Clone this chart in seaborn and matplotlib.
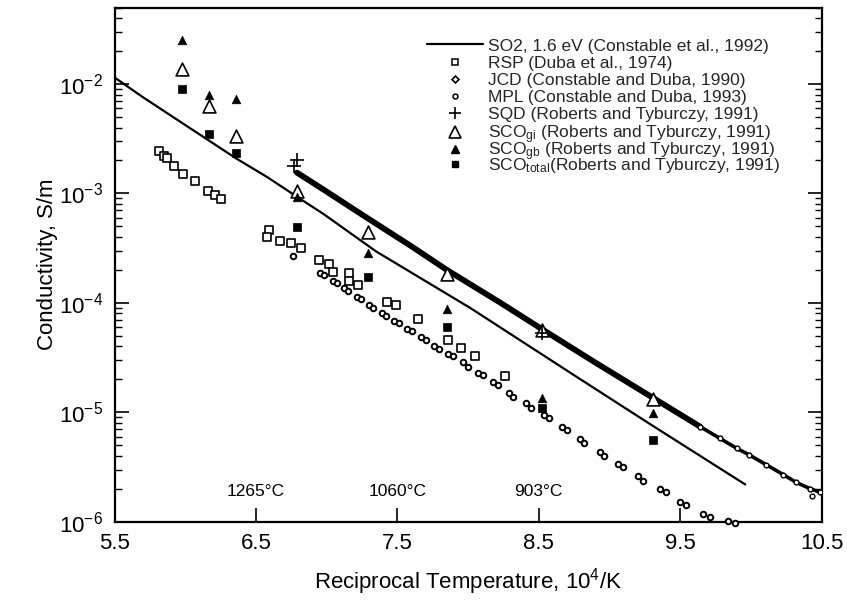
import numpy as np
import pandas as pd
import matplotlib
matplotlib.use("Agg")
import matplotlib.pyplot as plt
from matplotlib.lines import Line2D
import seaborn as sns

# ---------------- data ----------------
so2_x = [5.5, 5.7, 6.03, 6.36, 6.58, 6.79, 6.98, 7.35, 8.02, 8.76, 9.29, 9.96]
so2_y = [1.148e-2, 7.59e-3, 3.98e-3, 2.09e-3, 1.41e-3, 9.33e-4, 6.46e-4,
         2.95e-4, 8.91e-5, 2.14e-5, 7.76e-6, 2.19e-6]

rsp_x = [5.817, 5.85, 5.869, 5.921, 5.982, 6.069, 6.163, 6.211, 6.251, 6.591,
         6.576, 6.67, 6.746, 6.821, 6.948, 7.017, 7.043, 7.161, 7.161, 7.224,
         7.425, 7.491, 7.648, 7.861, 7.95, 8.052, 8.262]
rsp_y = [2.42e-3, 2.18e-3, 2.09e-3, 1.79e-3, 1.49e-3, 1.30e-3, 1.06e-3, 9.59e-4,
         8.81e-4, 4.65e-4, 4.01e-4, 3.66e-4, 3.53e-4, 3.20e-4, 2.45e-4, 2.28e-4,
         1.92e-4, 1.86e-4, 1.60e-4, 1.45e-4, 1.01e-4, 9.66e-5, 7.05e-5, 4.61e-5,
         3.86e-5, 3.24e-5, 2.13e-5]

jcd_x = [6.765, 6.953, 6.981, 7.047, 7.071, 7.123, 7.153, 7.213, 7.243, 7.302,
         7.33, 7.39, 7.42, 7.479, 7.512, 7.571, 7.604, 7.666, 7.70, 7.762,
         7.797, 7.861, 7.896, 7.962, 7.998, 8.073, 8.108, 8.179, 8.214, 8.292,
         8.316, 8.41, 8.445, 8.537, 8.573, 8.663, 8.698, 8.792, 8.82, 8.934,
         8.962, 9.063, 9.098, 9.204, 9.235, 9.358, 9.40, 9.499, 9.542, 9.664,
         9.711, 9.841, 9.888]
jcd_y = [2.69e-4, 1.88e-4, 1.79e-4, 1.58e-4, 1.51e-4, 1.355e-4, 1.28e-4, 1.127e-4,
         1.074e-4, 9.53e-5, 8.99e-5, 8.09e-5, 7.66e-5, 6.89e-5, 6.56e-5, 5.82e-5,
         5.50e-5, 4.84e-5, 4.61e-5, 4.06e-5, 3.82e-5, 3.44e-5, 3.24e-5, 2.86e-5,
         2.59e-5, 2.31e-5, 2.17e-5, 1.91e-5, 1.78e-5, 1.49e-5, 1.39e-5, 1.21e-5,
         1.10e-5, 9.46e-6, 8.81e-6, 7.40e-6, 6.90e-6, 5.70e-6, 5.20e-6, 4.36e-6,
         4.01e-6, 3.40e-6, 3.18e-6, 2.62e-6, 2.36e-6, 2.01e-6, 1.85e-6, 1.52e-6,
         1.41e-6, 1.18e-6, 1.10e-6, 1.01e-6, 0.98e-6]

# MPL: dense band (thick part, then thinner tail) plus visible dots
mpl_x = [6.79, 6.98, 7.21, 7.45, 7.59, 7.85, 8.23, 8.51, 8.89, 9.31, 9.64]
mpl_y = [1.55e-3, 1.08e-3, 6.92e-4, 4.37e-4, 3.35e-4, 2.00e-4, 1.00e-4, 5.89e-5,
         2.90e-5, 1.35e-5, 7.41e-6]
mpl_tail_x = [9.31, 9.64, 9.90, 9.99, 10.11, 10.23, 10.32, 10.42, 10.49]
mpl_tail_y = [1.35e-5, 7.41e-6, 4.68e-6, 4.07e-6, 3.31e-6, 2.69e-6, 2.29e-6,
              2.00e-6, 1.86e-6]
mpl_dot_x = [9.64, 9.78, 9.90, 9.99, 10.11, 10.23, 10.32, 10.42, 10.43, 10.49]
mpl_dot_y = [7.41e-6, 5.80e-6, 4.68e-6, 4.07e-6, 3.31e-6, 2.69e-6, 2.29e-6,
             2.00e-6, 1.70e-6, 1.86e-6]

sqd_x = [6.77, 6.79, 8.52]
sqd_y = [1.77e-3, 2.0e-3, 5.3e-5]

sco_x = [5.98, 6.17, 6.36, 6.79, 7.29, 7.85, 8.52, 9.31]
sco_gi = [1.38e-2, 6.24e-3, 3.33e-3, 1.06e-3, 4.46e-4, 1.85e-4, 5.70e-5, 1.31e-5]
sco_gb = [2.55e-2, 7.87e-3, 7.35e-3, 9.2e-4, 2.88e-4, 8.7e-5, 1.34e-5, 9.8e-6]
sco_total = [9.08e-3, 3.51e-3, 2.35e-3, 4.98e-4, 1.73e-4, 5.98e-5, 1.10e-5, 5.58e-6]

temp_x = [6.5, 7.5, 8.5]
temp_labels = ["1265°C", "1060°C", "903°C"]

legend_labels_a = [
    "SO2, 1.6 eV (Constable et al., 1992)",
    "RSP (Duba et al., 1974)",
    "JCD (Constable and Duba, 1990)",
    "MPL (Constable and Duba, 1993)",
    "SQD (Roberts and Tyburczy, 1991)",
]
legend_labels_b = [
    r"SCO$_{\mathregular{gi}}$ (Roberts and Tyburczy, 1991)",
    r"SCO$_{\mathregular{gb}}$ (Roberts and Tyburczy, 1991)",
    r"SCO$_{\mathregular{total}}$(Roberts and Tyburczy, 1991)",
]

# ---------------- style ----------------
sns.set_theme(style="ticks")
plt.rcParams["font.family"] = ["Liberation Sans", "DejaVu Sans"]
plt.rcParams["mathtext.fontset"] = "custom"
plt.rcParams["mathtext.rm"] = "Liberation Sans"
plt.rcParams["mathtext.it"] = "Liberation Sans:italic"
plt.rcParams["mathtext.bf"] = "Liberation Sans:bold"
plt.rcParams["axes.unicode_minus"] = False

fig = plt.figure(figsize=(8.47, 6.07), dpi=100)
ax = fig.add_axes([0.1352, 0.1405, 0.8348, 0.8471])

K = "black"

# SO2 model line
sns.lineplot(x=so2_x, y=so2_y, ax=ax, color=K, lw=1.6, sort=False,
             estimator=None, zorder=3)

# MPL dense band
sns.lineplot(x=mpl_x, y=mpl_y, ax=ax, color=K, lw=4.2, sort=False,
             estimator=None, zorder=3, solid_capstyle="round",
             solid_joinstyle="round")
sns.lineplot(x=mpl_tail_x, y=mpl_tail_y, ax=ax, color=K, lw=2.6, sort=False,
             estimator=None, zorder=3, solid_capstyle="round",
             solid_joinstyle="round")
sns.scatterplot(x=mpl_dot_x, y=mpl_dot_y, ax=ax,
                marker="o", s=12, facecolor="white", edgecolor=K,
                linewidth=1.0, zorder=4)

# RSP open squares
sns.scatterplot(x=rsp_x, y=rsp_y, ax=ax, marker="s", s=38,
                facecolor="white", edgecolor=K, linewidth=1.2, zorder=4)

# JCD small markers
sns.scatterplot(x=jcd_x, y=jcd_y, ax=ax, marker="o", s=16,
                facecolor="white", edgecolor=K, linewidth=1.4, zorder=4,
                clip_on=False)

# SCO series
sns.scatterplot(x=sco_x, y=sco_gi, ax=ax, marker="^", s=85,
                facecolor="white", edgecolor=K, linewidth=1.2, zorder=5)
sns.scatterplot(x=sco_x, y=sco_gb, ax=ax, marker="^", s=38,
                color=K, edgecolor=K, linewidth=0.5, zorder=5)
sns.scatterplot(x=sco_x, y=sco_total, ax=ax, marker="s", s=30,
                color=K, edgecolor=K, linewidth=0.5, zorder=5)

# SQD plus
sns.scatterplot(x=sqd_x, y=sqd_y, ax=ax, marker="+", s=110,
                color=K, linewidth=1.2, zorder=6)

# temperature annotations
for tx, tl in zip(temp_x, temp_labels):
    ax.text(tx, 1.9e-6, tl, ha="center", va="center", fontsize=12.5, color=K)

# axes
ax.set_yscale("log")
ax.set_xlim(5.5, 10.5)
ax.set_ylim(1e-6, 5e-2)
ax.set_xticks([5.5, 6.5, 7.5, 8.5, 9.5, 10.5])
ax.set_xticklabels(["5.5", "6.5", "7.5", "8.5", "9.5", "10.5"])
ax.set_yticks([1e-6, 1e-5, 1e-4, 1e-3, 1e-2])
ax.xaxis.set_minor_locator(matplotlib.ticker.NullLocator())
ax.tick_params(axis="both", which="major", direction="in", length=10,
               width=1.2, labelsize=16, color=K, labelcolor=K, pad=8)
ax.tick_params(axis="y", which="minor", direction="in", length=5, width=1.0,
               color=K)
ax.tick_params(axis="y", which="both", left=True, right=True)
ax.tick_params(axis="x", which="both", top=False, bottom=True)
for sp in ax.spines.values():
    sp.set_visible(True)
    sp.set_linewidth(1.6)
    sp.set_color(K)

ax.set_xlabel(r"Reciprocal Temperature, 10$^{\mathregular{4}}$/K", fontsize=16,
              color=K, labelpad=9)
ax.set_ylabel("Conductivity, S/m", fontsize=16, color=K, labelpad=1)

# legend (two stacked blocks so that rows with subscripts keep even spacing)
handles_a = [
    Line2D([], [], color=K, lw=1.6),
    Line2D([], [], ls="", marker="s", ms=5, mfc="white", mec=K, mew=1.1),
    Line2D([], [], ls="", marker="D", ms=3.5, mfc="white", mec=K, mew=1.2),
    Line2D([], [], ls="", marker="o", ms=3.5, mfc="white", mec=K, mew=1.1),
    Line2D([], [], ls="", marker="+", ms=9, color=K, mew=1.2),
]
handles_b = [
    Line2D([], [], ls="", marker="^", ms=8, mfc="white", mec=K, mew=1.2),
    Line2D([], [], ls="", marker="^", ms=6, mfc=K, mec=K),
    Line2D([], [], ls="", marker="s", ms=5, mfc=K, mec=K),
]
common = dict(loc="upper left", frameon=False, fontsize=12.5,
              handlelength=3.2, handletextpad=0.3, borderpad=0,
              borderaxespad=0)
leg_a = ax.legend(handles_a, legend_labels_a,
                  bbox_to_anchor=(0.442, 0.94), labelspacing=0.12, **common)
ax.add_artist(leg_a)
leg_b = ax.legend(handles_b, legend_labels_b,
                  bbox_to_anchor=(0.442, 0.7746), labelspacing=-0.35, **common)

fig.savefig("out.png", dpi=100)
